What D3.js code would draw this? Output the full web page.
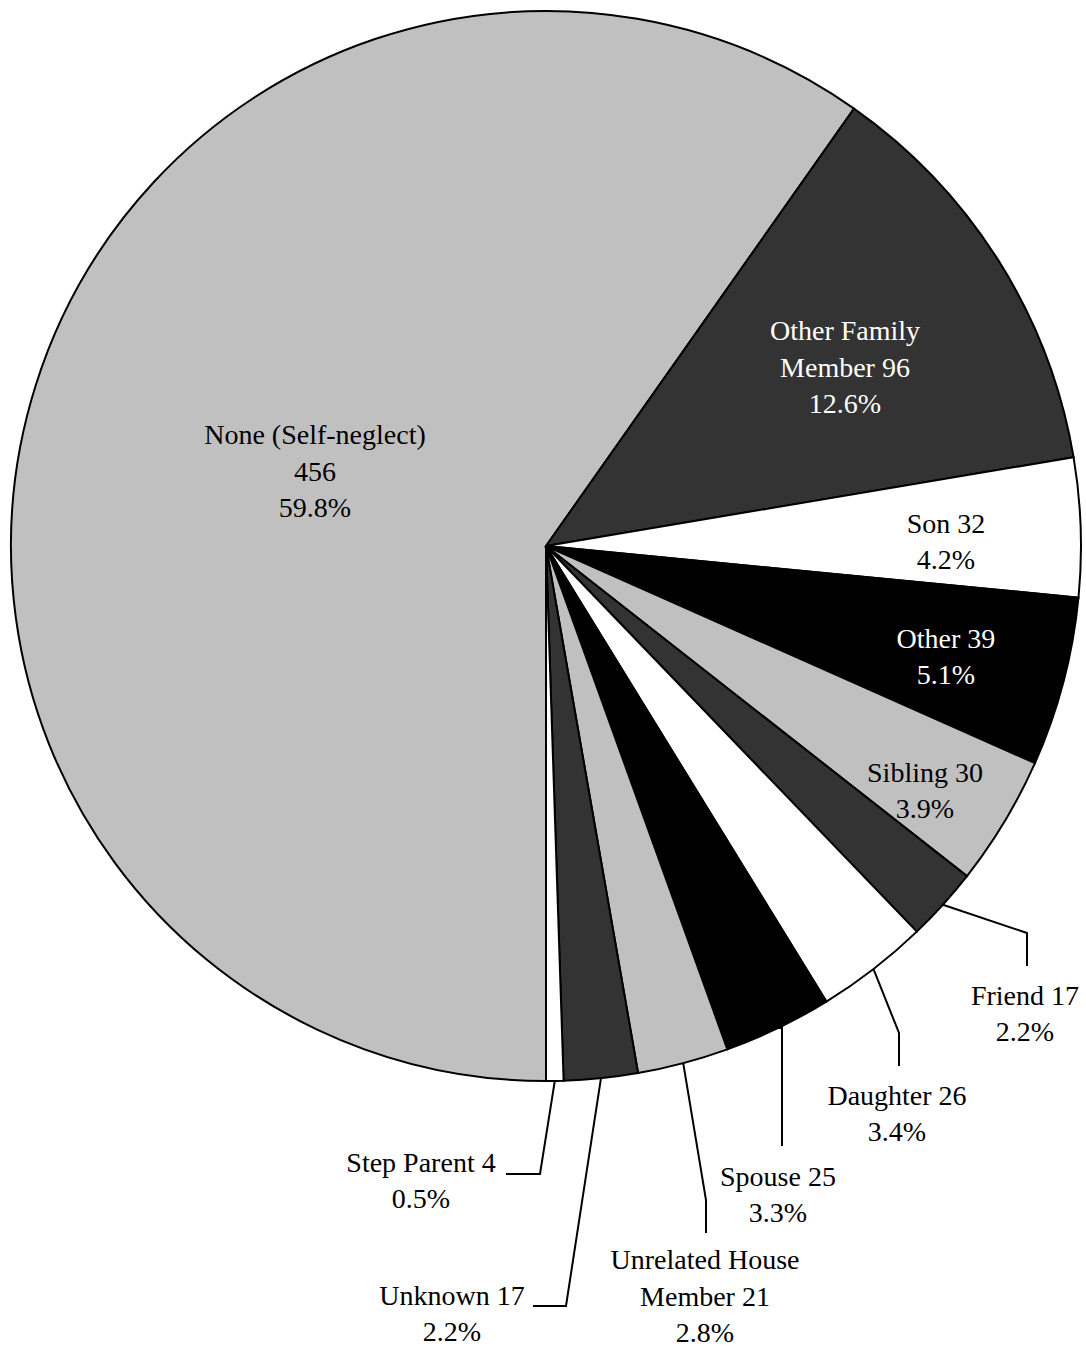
<!DOCTYPE html>
<html>
<head>
<meta charset="utf-8">
<script src="https://cdn.jsdelivr.net/npm/d3@7"></script>
<style>
  body { margin: 0; background: #fff; }
  text { font-family: "Liberation Serif", "Times New Roman", serif; font-size: 28px; }
</style>
</head>
<body>
<div id="chart-area"></div>
<script>

// Data
let categories = ["None (Self-neglect)", "Other Family Member", "Son", "Other", "Sibling",
	"Friend", "Daughter", "Spouse", "Unrelated House Member", "Unknown", "Step Parent"];
let counts = [456, 96, 32, 39, 30, 17, 26, 25, 21, 17, 4];
let percents = ["59.8%", "12.6%", "4.2%", "5.1%", "3.9%", "2.2%", "3.4%", "3.3%", "2.8%", "2.2%", "0.5%"];
let labelLines = [
	["None (Self-neglect)", "456"],
	["Other Family", "Member 96"],
	["Son 32"],
	["Other 39"],
	["Sibling 30"],
	["Friend 17"],
	["Daughter 26"],
	["Spouse 25"],
	["Unrelated House", "Member 21"],
	["Unknown 17"],
	["Step Parent 4"]
];

let fills = ["#c0c0c0", "#333333", "#ffffff", "#000000"];
let textFills = ["#000", "#fff", "#000", "#fff"];

/////////////////////////
// SVG drawing area
/////////////////////////

let width = 1086, height = 1351;
let cx = 546, cy = 546, radius = 535;
let lineH = 36.5;

let svg = d3.select("#chart-area").append("svg")
	.attr("width", width)
	.attr("height", height);

let g = svg.append("g")
	.attr("transform", "translate(" + cx + "," + cy + ")");

let pie = d3.pie()
	.sort(null)
	.startAngle(Math.PI)
	.endAngle(3 * Math.PI);

let arc = d3.arc()
	.innerRadius(0)
	.outerRadius(radius);

let arcs = pie(counts);

g.selectAll("path.slice")
	.data(arcs)
	.enter()
	.append("path")
	.attr("class", "slice")
	.attr("d", arc)
	.attr("fill", (d, i) => fills[i % 4])
	.attr("stroke", "black")
	.attr("stroke-width", 2);

// label placement (relative to pie centre); outside labels get a leader line
let placement = [
	{text: [-231, -75]},
	{text: [299, -179]},
	{text: [400, -5]},
	{text: [400, 110]},
	{text: [379, 244]},
	{elbow: [481, 387], end: [481, 420], text: [479, 467]},
	{elbow: [353, 487], end: [353, 520], text: [351, 567]},
	{elbow: [236, 482], end: [236, 600], text: [232, 648]},
	{elbow: [160, 654], end: [160, 687], text: [159, 750]},
	{elbow: [20, 760], end: [-13, 760], text: [-94, 767]},
	{elbow: [-6, 628], end: [-40, 628], text: [-125, 634]}
];

arcs.forEach(function(d, i) {
	let lines = labelLines[i].concat([percents[i]]);
	let mid = (d.startAngle + d.endAngle) / 2;
	let o = placement[i];
	if (o.elbow) {
		let p = [radius * Math.sin(mid), -radius * Math.cos(mid)];
		g.append("polyline")
			.attr("points", [p, o.elbow, o.end].map(q => q.join(",")).join(" "))
			.attr("fill", "none")
			.attr("stroke", "black")
			.attr("stroke-width", 2);
	}
	let n = lines.length;
	let t = g.append("text")
		.attr("text-anchor", "middle")
		.attr("fill", o.elbow ? "#000" : textFills[i % 4]);
	lines.forEach(function(s, k) {
		t.append("tspan")
			.attr("x", o.text[0])
			.attr("y", o.text[1] + (k - (n - 1) / 2) * lineH)
			.attr("dy", "0.35em")
			.text(s);
	});
});

</script>
</body>
</html>
